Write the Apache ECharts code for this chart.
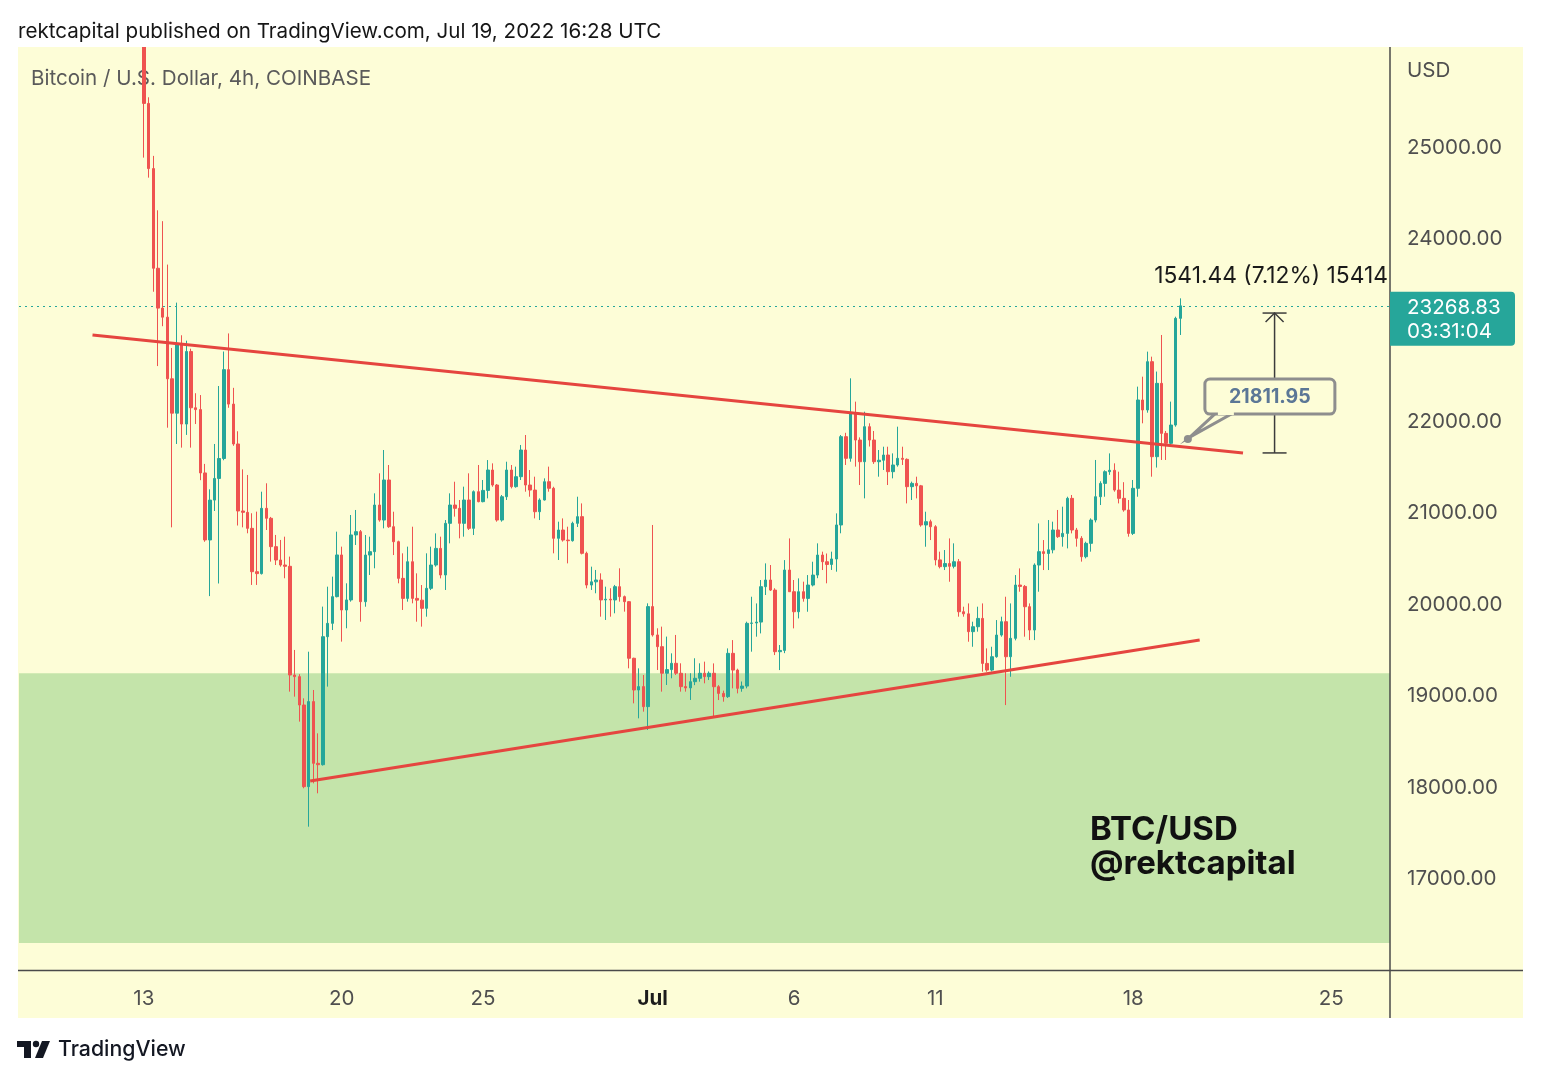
<!DOCTYPE html>
<html><head><meta charset="utf-8">
<script src="https://cdn.jsdelivr.net/npm/echarts@6/dist/echarts.min.js"></script>
<style>html,body{margin:0;padding:0;background:#fff;}#c{width:1541px;height:1080px;}</style>
</head><body><div id="c"></div>
<script>
// ---- DATA: BTC/USD 4h candles, first candle = 2022-06-13 00:00 UTC ----
const opens = [
26480,25483,24770,23680,23244,23145,22471,22095,22848,21976,
22769,22154,22134,21441,20708,21144,21381,21599,22571,22194,
21758,21025,21010,20835,20361,20340,21054,20945,20635,20489,
20434,20420,19231,19213,18903,18010,18940,18265,18250,19650,
19796,20088,20544,19942,20052,20763,20799,20033,20543,20580,
21090,20926,21364,20853,20689,20288,20069,20470,20069,20050,
19960,20179,20434,20616,20325,20890,21090,21054,20890,21145,
20835,21236,21127,21250,21473,21309,20926,21181,21473,21291,
21400,21692,21309,21254,21017,21145,21345,21273,20726,20817,
20707,20700,20890,20963,20562,20215,20250,20270,20052,20060,
20052,20197,20088,20033,19414,19067,19104,18885,19979,19669,
19541,19250,19290,19359,19250,19104,19090,19158,19195,19250,
19213,19250,19103,19030,18994,19468,19285,19085,19110,19796,
19800,19810,20197,20270,20160,19486,19500,20379,20142,19923,
20142,20069,20215,20324,20543,20470,20440,20500,20872,21838,
21601,22093,21801,21564,21947,21801,21564,21580,21637,21455,
21528,21601,21590,21291,21327,21300,20872,20908,20853,20490,
20416,20450,20420,20470,19923,19900,19705,19759,19850,19358,
19285,19431,19668,19814,19431,19632,20215,20200,19978,19723,
20434,20580,20560,20600,20817,20744,20780,21163,20817,20726,
20525,20671,20926,21181,21327,21455,21470,21254,21163,21036,
20780,21273,22239,22130,22658,21619,22421,21874,21765,21965,
23132];
const highs = [
26700,25550,24909,24314,24195,23720,22808,23304,22947,22888,
22800,22313,22293,21540,21262,21758,22392,22769,22967,22372,
21897,21480,21419,21000,21018,21236,21328,20960,20763,20708,
20744,20526,19505,19240,18976,19486,19067,18593,19979,20197,
20307,20799,20635,20234,20981,21036,20817,20762,20744,21218,
21437,21692,21528,21017,20700,20562,20635,20853,20343,20215,
20562,20635,20780,20744,20926,21218,21345,21145,21291,21437,
21250,21528,21364,21582,21546,21320,21200,21564,21528,21510,
21747,21856,21473,21400,21163,21382,21510,21290,20908,20944,
20853,20908,21181,21108,20580,20416,20380,20343,20197,20180,
20216,20398,20100,20040,19420,19304,19231,20015,20872,19742,
19760,19651,19468,19669,19359,19250,19250,19414,19359,19377,
19270,19358,19120,19060,19522,19613,19300,19160,19814,20087,
20014,20270,20452,20434,20180,19559,20488,20725,20270,20288,
20252,20324,20470,20671,20580,20560,20580,20999,21856,21880,
22476,22221,21830,22111,21984,21900,21692,21728,21728,21655,
21947,21728,21600,21346,21400,21310,21017,20930,20870,20580,
20598,20725,20671,20500,19978,20014,19814,19978,20014,19522,
19540,19832,19869,20087,20014,20324,20397,20215,20014,20452,
20889,20707,20926,20908,21036,21072,21181,21200,20840,20750,
20689,20944,21583,21350,21470,21655,21546,21455,21340,21145,
21364,22385,22494,22768,22713,22550,22950,21900,22221,23150,
23351];
const lows = [
24890,24671,23423,22610,23046,21936,20846,21758,21718,21857,
21718,21976,21362,20688,20094,21025,20232,21580,22154,21738,
20866,20846,20781,20216,20216,20330,20817,20471,20434,20416,
20289,19049,18994,18721,17992,17572,18046,17937,18240,19104,
19723,20080,19596,19742,20033,20653,19814,19978,20325,20398,
20908,20835,20840,20543,20234,19942,20033,20015,19814,19760,
19869,20160,20416,20288,20161,20671,20963,20726,20744,20817,
20762,21120,21120,21163,21290,20908,20908,21145,21272,21280,
21364,21236,21181,20944,20926,21140,21236,20562,20489,20690,
20452,20690,20850,20550,20179,20161,20125,19869,19833,19869,
19906,20033,19924,19304,18921,18757,18830,18630,19651,19286,
19049,19122,19195,19231,19049,19049,18958,19120,19158,19140,
19176,18775,18957,18939,18980,19085,19030,19048,19085,19486,
19650,19686,20106,20150,19449,19285,19470,20140,19741,19850,
20033,19923,20200,20290,20379,20234,20380,20361,20781,21528,
21564,21510,21309,21163,21730,21540,21400,21473,21309,21382,
21510,21528,21108,21145,21163,20853,20634,20707,20430,20397,
20379,20251,20397,19869,19869,19595,19540,19705,19267,19267,
19270,19420,19650,18902,19212,19610,20142,19650,19613,19613,
20142,20379,20379,20562,20730,20635,20616,20780,20635,20471,
20507,20580,20900,21090,21181,21420,21236,21108,21017,20744,
20762,21181,21984,22100,21400,21500,21583,21583,21728,21947,
22950];
const closes = [
25483,24770,23680,23244,23145,22471,22095,22848,21976,22769,
22154,22134,21441,20708,21144,21381,21599,22571,22194,21758,
21025,21010,20835,20361,20340,21054,20945,20635,20489,20434,
20420,19231,19213,18903,18010,18940,18265,18250,19650,19796,
20088,20544,19942,20052,20763,20799,20033,20543,20580,21090,
20926,21364,20853,20689,20288,20069,20470,20069,20050,19960,
20179,20434,20616,20325,20890,21090,21054,20890,21145,20835,
21236,21127,21250,21473,21309,20926,21181,21473,21291,21400,
21692,21309,21254,21017,21145,21345,21273,20726,20817,20707,
20700,20890,20963,20562,20215,20250,20270,20052,20060,20052,
20197,20088,20033,19414,19067,19104,18885,19979,19669,19541,
19250,19290,19359,19250,19104,19090,19158,19195,19250,19213,
19250,19103,19030,18994,19468,19285,19085,19110,19796,19800,
19810,20197,20270,20160,19486,19500,20379,20142,19923,20142,
20069,20215,20324,20543,20470,20440,20500,20872,21838,21601,
22093,21801,21564,21947,21801,21564,21580,21637,21455,21528,
21601,21590,21291,21327,21300,20872,20908,20853,20490,20416,
20450,20420,20470,19923,19900,19705,19759,19850,19358,19285,
19431,19668,19814,19431,19632,20215,20200,19978,19723,20434,
20580,20560,20600,20817,20744,20780,21163,20817,20726,20525,
20671,20926,21181,21327,21455,21470,21254,21163,21036,20780,
21273,22239,22130,22658,21619,22421,21874,21765,21965,23132,
23268.83];

// x tick labels (day starts)
const xTickDates  = ['2022-06-13','2022-06-20','2022-06-25','2022-07-01','2022-07-06','2022-07-11','2022-07-18','2022-07-25'];
const xTickLabels = ['13','20','25','Jul','6','11','18','25'];
// y ticks
const yMin = 16000, yMax = 26100, yStep = 1000, yLabelMin = 17000, yLabelMax = 25000;

// trend lines: [candle index, price]
const upperTrend = [[-10.9, 22950], [233.3, 21659]];
const lowerTrend = [[35.3, 18071], [224.1, 19614]];
// demand zone
const zoneLow = 16300, zoneHigh = 19250;
// annotations
const lastPrice = 23268.83, countdown = '03:31:04';
const calloutPrice = 21811.95, calloutK = 221.6, calloutText = '21811.95';
const measureK = 240, measureFrom = 21660, measureTo = 23190, measureText = '1541.44 (7.12%) 15414';

// ---- axis scaffolding ----
const LEAD = 26, SLOTS = 291, H4 = 4 * 3600e3;
const startMs = Date.UTC(2022, 5, 13, 0) - LEAD * H4;
const categories = [];
for (let i = 0; i < SLOTS; i++) categories.push(new Date(startMs + i * H4).toISOString().slice(0, 13));
const tickKeys = xTickDates.map(d => d + 'T00');
const candleData = categories.map((c, i) => {
  const k = i - LEAD;
  return (k >= 0 && k < opens.length) ? [opens[k], closes[k], lows[k], highs[k]] : ['-', '-', '-', '-'];
});

const FONT = 'Inter';
const BG = '#fdfdd7';
const UP = '#26a69a', DOWN = '#ef5350';
const chart = echarts.init(document.getElementById('c'));
const GL = 19, GR = 1390, GT = 47, GB = 970.4;

chart.setOption({
  animation: false,
  backgroundColor: '#ffffff',
  textStyle: { fontFamily: FONT },
  grid: { left: GL, right: 1541 - GR, top: GT, bottom: 1080 - GB, containLabel: false },
  xAxis: [{
    type: 'category', data: categories, boundaryGap: true,
    axisLine: { show: false }, axisTick: { show: false }, splitLine: { show: false },
    axisLabel: {
      interval: (idx, val) => tickKeys.indexOf(val) >= 0,
      formatter: (val) => { const t = xTickLabels[tickKeys.indexOf(val)]; return t === 'Jul' ? '{b|Jul}' : t; },
      color: '#4f4f4f', fontSize: 20.5, fontFamily: FONT, margin: 18,
      rich: { b: { fontWeight: 'bold', color: '#1c1c1c', fontSize: 20.5, fontFamily: FONT } }
    }
  }, {
    type: 'value', show: false, min: -LEAD - 0.5, max: SLOTS - LEAD - 0.5
  }],
  yAxis: [{
    type: 'value', position: 'right', min: yMin, max: yMax, interval: yStep, scale: true,
    axisLine: { show: false }, axisTick: { show: false }, splitLine: { show: false },
    axisLabel: {
      margin: 17, color: '#4f4f4f', fontSize: 20.6, fontFamily: FONT, padding: [4, 0, 0, 0],
      formatter: v => (v >= yLabelMin && v <= yLabelMax) ? v.toFixed(2) : ''
    }
  }],
  series: [{
    type: 'candlestick', xAxisIndex: 0, yAxisIndex: 0, data: candleData, z: 3,
    barWidth: 3, clip: true,
    itemStyle: { color: UP, color0: DOWN, borderColor: UP, borderColor0: DOWN, borderWidth: 1 },
    markArea: { silent: true, z: 1, itemStyle: { color: '#c4e4aa', borderWidth: 0 },
      data: [[{ yAxis: zoneLow }, { yAxis: zoneHigh }]] },
    markLine: { silent: true, symbol: 'none', z: 2, label: { show: false },
      lineStyle: { color: UP, type: [2, 4], width: 1 },
      data: [{ yAxis: lastPrice }] }
  }, {
    type: 'line', xAxisIndex: 1, yAxisIndex: 0, data: upperTrend, symbol: 'none', z: 4,
    lineStyle: { color: '#e5453f', width: 3 }
  }, {
    type: 'line', xAxisIndex: 1, yAxisIndex: 0, data: lowerTrend, symbol: 'none', z: 4,
    lineStyle: { color: '#e5453f', width: 3 }
  }]
});

const px = (k, p) => chart.convertToPixel({ seriesIndex: 1 }, [k, p]);
const T = (x, y, text, size, fill, opts, z) => ({
  type: 'text', x, y, silent: true, z: (z === undefined ? 20 : z),
  style: Object.assign({ text, fontSize: size, fontFamily: FONT, fill, align: 'left', verticalAlign: 'middle' }, (opts || {}))
});

const g = [];
g.push({ type: 'rect', z: -10, silent: true, shape: { x: 18, y: 47, width: 1505, height: 971 }, style: { fill: BG } });
// white strip above the panel hides anything drawn past the top of the plot
g.push({ type: 'rect', z: 17, silent: true, shape: { x: 0, y: 0, width: 1541, height: 47 }, style: { fill: '#ffffff' } });
g.push({ type: 'line', z: 15, silent: true, shape: { x1: GR, y1: 47, x2: GR, y2: 1018 }, style: { stroke: '#4a4a4a', lineWidth: 1.5 } });
g.push({ type: 'line', z: 15, silent: true, shape: { x1: 18, y1: 970.5, x2: 1523, y2: 970.5 }, style: { stroke: '#4a4a4a', lineWidth: 1.5 } });
g.push(T(18, 32, 'rektcapital published on TradingView.com, Jul 19, 2022 16:28 UTC', 20.6, '#161616'));
g.push(T(31, 79, 'Bitcoin / U.S. Dollar, 4h, COINBASE', 20.6, '#5a5a5a', null, -5));
g.push(T(1407, 71, 'USD', 20.6, '#4f4f4f'));
g.push(T(1090, 830, 'BTC/USD', 33, '#111111', { fontWeight: 'bold' }));
g.push(T(1090, 864, '@rektcapital', 33, '#111111', { fontWeight: 'bold' }));

// price tag
const pNow = px(0, lastPrice);
g.push({ type: 'rect', z: 16, silent: true, shape: { x: GR, y: pNow[1] - 14, width: 125, height: 54, r: [0, 4, 4, 0] }, style: { fill: UP } });
g.push(T(1407, pNow[1] + 2, lastPrice.toFixed(2), 20.6, '#ffffff'));
g.push(T(1407, pNow[1] + 26, countdown, 20.6, '#ffffff'));

// measure tool
const mTop = px(measureK, measureTo), mBot = px(measureK, measureFrom);
const mx = mTop[0];
const MS = { stroke: '#3c3c3c', lineWidth: 1.5 };
g.push({ type: 'line', z: 12, silent: true, shape: { x1: mx, y1: mTop[1], x2: mx, y2: mBot[1] }, style: MS });
g.push({ type: 'line', z: 12, silent: true, shape: { x1: mx - 12, y1: mTop[1], x2: mx + 12, y2: mTop[1] }, style: MS });
g.push({ type: 'line', z: 12, silent: true, shape: { x1: mx - 12, y1: mBot[1], x2: mx + 12, y2: mBot[1] }, style: MS });
g.push({ type: 'polyline', z: 12, silent: true, shape: { points: [[mx - 9, mTop[1] + 9], [mx, mTop[1]], [mx + 9, mTop[1] + 9]] }, style: MS });
g.push(T(1388, mTop[1] - 37, measureText, 22.8, '#1a1a1a', { align: 'right' }));

// callout
const cd = px(calloutK, calloutPrice);
const bx = cd[0] + 17, by = cd[1] - 60;
g.push({ type: 'polygon', z: 13, silent: true, shape: { points: [[bx + 12, by + 33], [cd[0] + 2, cd[1] - 2], [bx + 30, by + 33]] }, style: { fill: BG, stroke: '#8e8e8e', lineWidth: 3 } });
g.push({ type: 'rect', z: 14, silent: true, shape: { x: bx, y: by, width: 130, height: 35, r: 5 }, style: { fill: BG, stroke: '#8e8e8e', lineWidth: 3 } });
g.push({ type: 'rect', z: 14, silent: true, shape: { x: bx + 13, y: by + 30, width: 16, height: 6 }, style: { fill: BG } });
g.push({ type: 'circle', z: 14, silent: true, shape: { cx: cd[0], cy: cd[1], r: 4 }, style: { fill: '#8e8e8e' } });
g.push(T(bx + 65, by + 18, calloutText, 19.5, '#5b7796', { align: 'center', fontWeight: 'bold' }));

// TradingView logo
g.push({ type: 'polygon', z: 20, silent: true, shape: { points: [[17, 1041], [31, 1041], [31, 1058], [24, 1058], [24, 1047], [17, 1047]] }, style: { fill: '#131722' } });
g.push({ type: 'circle', z: 20, silent: true, shape: { cx: 36, cy: 1044, r: 3.2 }, style: { fill: '#131722' } });
g.push({ type: 'polygon', z: 20, silent: true, shape: { points: [[42, 1041], [50, 1041], [43, 1058], [35, 1058]] }, style: { fill: '#131722' } });
g.push(T(58, 1050, 'TradingView', 21.3, '#131722', { fontWeight: 500 }));

chart.setOption({ graphic: g });
</script>
</body></html>
